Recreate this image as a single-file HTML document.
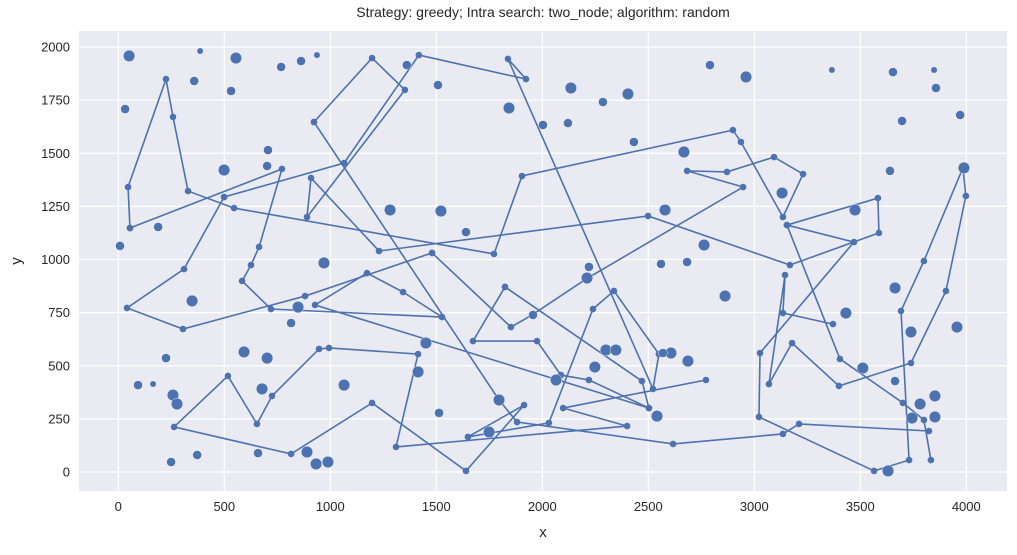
<!DOCTYPE html>
<html><head><meta charset="utf-8"><style>
body{margin:0;background:#fff;}
svg text{font-family:"Liberation Sans",sans-serif;fill:#262626;}
</style></head><body>
<svg id="chart" width="1017" height="550" viewBox="0 0 1017 550" xmlns="http://www.w3.org/2000/svg">
<rect x="79" y="31" width="928" height="460" fill="#eaeaf2"/>
<g id="grid"></g>
<g id="lines"></g>
<g id="dots"></g>
<g id="ticks"></g>
<text x="543" y="17" text-anchor="middle" font-size="14">Strategy: greedy; Intra search: two_node; algorithm: random</text>
<text x="543" y="537" text-anchor="middle" font-size="15">x</text>
<text x="21" y="261" text-anchor="middle" font-size="15" transform="rotate(-90 21 261)">y</text>
</svg>
<script>
const xTicks=[0,500,1000,1500,2000,2500,3000,3500,4000];
const yTicks=[0,250,500,750,1000,1250,1500,1750,2000];
// tour polylines (x values / y values), separated into segments
const tourX=[
[55,46,225,258,329,546,1772,1904,2899,2937,3135,3230,3093,2871,2683,2947,2206,1952,1852,1480],
[55,772,664,626,584,720,1527,1343,1173,928,2503],
[499,1065,1418,1923,1838,2522,2550,2338,2239,2031,1649,1914,1640,1197,815,263,517,654,725,947,994,1414,1310,2400,2098,2772],
[499,310,41,305,881,1480],
[923,1197,1352,890,909,1230,2499,3168,3588,3583,3154,3404,3701,3800,3833],
[923,1796,1881,2617,3135,3211,3824],
[3154,3470,3027,3022,3565,3730,3692,3800,3984,3998,3904,3739,3399,3178,3069,3145,3135,3371],
[1824,1673,1975,2088,2220,2503,2470,1824]
];
const tourY=[
[1148,1341,1849,1671,1322,1242,1026,1393,1609,1553,1200,1402,1482,1412,1417,1341,908,739,682,1031],
[1148,1426,1059,974,899,767,729,847,936,786,301],
[1294,1454,1962,1849,1944,391,555,852,767,231,165,315,5,325,85,212,452,226,358,579,584,555,118,216,301,433],
[1294,955,772,673,828,1031],
[1647,1948,1798,1200,1384,1040,1205,974,1125,1289,1162,532,325,245,56],
[1647,339,235,132,179,226,193],
[1162,1082,560,259,5,56,758,993,1431,1299,852,513,405,607,414,927,748,696],
[871,616,616,456,433,301,428,871]
];
const cityX=[51,32,8,188,358,386,532,555,768,862,937,1361,1508,1843,499,702,706,1282,1522,1640,970,
2791,2961,3366,3654,3848,3857,3697,3971,2135,2286,2404,2003,2121,2432,2668,3640,3131,2579,2763,2560,2683,2220,3989,
348,225,593,702,93,164,258,277,678,1065,815,1451,1414,1513,1749,249,372,659,890,933,989,848,1796,
2862,2607,2569,2687,2300,2347,2248,2065,2541,2211,1956,
3475,3664,3432,3512,3664,3739,3956,3852,3782,3744,3852,3631];
const cityY=[1958,1708,1064,1153,1840,1981,1793,1948,1906,1934,1962,1915,1821,1713,1421,1440,1515,1233,1228,1129,984,
1915,1859,1892,1882,1892,1807,1652,1680,1807,1741,1779,1633,1642,1553,1506,1417,1313,1233,1068,979,988,965,1431,
805,536,565,536,409,414,362,320,391,409,701,607,471,278,188,47,80,89,94,38,47,776,339,
828,560,560,522,574,574,494,433,263,913,739,
1233,866,748,489,428,659,682,358,320,254,259,5];
const citySize=[3,2,2,2,2,1,2,3,2,2,1,2,2,3,3,2,2,3,3,2,3,
2,3,1,2,1,2,2,2,3,2,3,2,2,2,3,2,3,3,3,2,2,2,3,
3,2,3,3,2,1,3,3,3,3,2,3,3,2,3,2,2,2,3,3,3,3,3,
3,3,2,3,3,3,3,3,3,3,2,
3,3,3,3,2,3,3,3,3,3,3,3];
const NS="http://www.w3.org/2000/svg";
const sx=v=>118.3+v*0.212;
const sy=v=>472-v*0.2125;
const C="#4c72b0";
const grid=document.getElementById('grid'),ticks=document.getElementById('ticks');
xTicks.forEach(t=>{
  const l=document.createElementNS(NS,'line');
  
  
  l.setAttribute('x1',sx(t));l.setAttribute('x2',sx(t));l.setAttribute('y1',31);l.setAttribute('y2',491);
  l.setAttribute('stroke','#fff');l.setAttribute('stroke-width','1.2');grid.appendChild(l);
  const tx=document.createElementNS(NS,'text');
  
  
  tx.setAttribute('x',sx(t));tx.setAttribute('y',511);tx.setAttribute('text-anchor','middle');tx.setAttribute('font-size','13');
  tx.textContent=t;ticks.appendChild(tx);
});
yTicks.forEach(t=>{
  const l=document.createElementNS(NS,'line');
  
  
  l.setAttribute('x1',79);l.setAttribute('x2',1007);l.setAttribute('y1',sy(t));l.setAttribute('y2',sy(t));
  l.setAttribute('stroke','#fff');l.setAttribute('stroke-width','1.2');grid.appendChild(l);
  const tx=document.createElementNS(NS,'text');
  
  
  tx.setAttribute('x',70);tx.setAttribute('y',sy(t)+4.5);tx.setAttribute('text-anchor','end');tx.setAttribute('font-size','13');
  tx.textContent=t;ticks.appendChild(tx);
});
const lines=document.getElementById('lines'),dots=document.getElementById('dots');
tourX.forEach((xs,i)=>{
  const ys=tourY[i];
  const p=document.createElementNS(NS,'polyline');
  
  
  p.setAttribute('points',xs.map((x,j)=>sx(x)+','+sy(ys[j])).join(' '));
  p.setAttribute('fill','none');p.setAttribute('stroke',C);p.setAttribute('stroke-width','1.6');
  lines.appendChild(p);
  xs.forEach((x,j)=>{
    const c=document.createElementNS(NS,'circle');
    
    
    c.setAttribute('cx',sx(x));c.setAttribute('cy',sy(ys[j]));c.setAttribute('r',3.3);c.setAttribute('fill',C);
    lines.appendChild(c);
  });
});
const rad=[0,3.2,4.5,5.8];
cityX.forEach((x,i)=>{
  const c=document.createElementNS(NS,'circle');
  
  
  c.setAttribute('cx',sx(x));c.setAttribute('cy',sy(cityY[i]));c.setAttribute('r',rad[citySize[i]]);
  c.setAttribute('fill',C);c.setAttribute('stroke','#fff');c.setAttribute('stroke-width','0.4');
  dots.appendChild(c);
});
</script>
</body></html>
